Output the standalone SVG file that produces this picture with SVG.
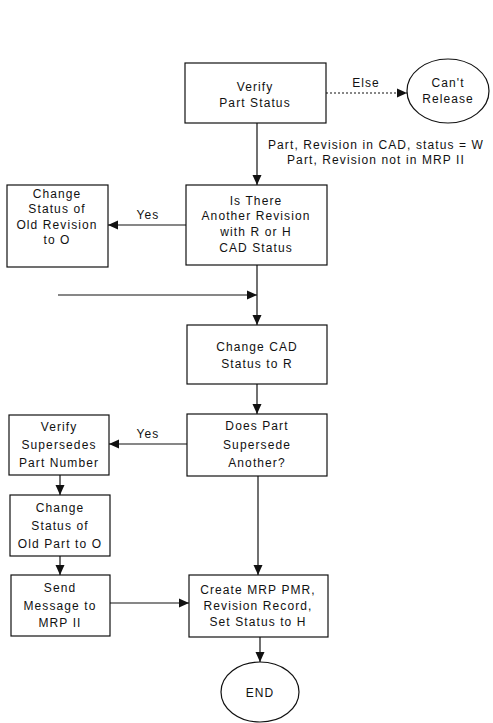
<svg xmlns="http://www.w3.org/2000/svg" width="493" height="723" viewBox="0 0 493 723">
<defs>
<style>
.b{fill:#fff;stroke:#111;stroke-width:1.2}
.t{font-family:"Liberation Sans",Arial,sans-serif;font-size:12px;fill:#111;text-anchor:middle;letter-spacing:1.1px}
.l{fill:none;stroke:#111;stroke-width:1.2}
.d{fill:none;stroke:#111;stroke-width:1.2;stroke-dasharray:2 2}
</style>
<marker id="a" viewBox="0 0 10 10" refX="10" refY="5" markerWidth="10" markerHeight="10" markerUnits="userSpaceOnUse" orient="auto">
<path d="M0,0.5 L10,5 L0,9.5 Z" fill="#111"/>
</marker>
</defs>
<rect width="493" height="723" fill="#fff"/>
<g id="connectors">
<line class="d" x1="326" y1="93" x2="407" y2="93" marker-end="url(#a)"/>
<text class="t" x="366" y="87">Else</text>
<line class="l" x1="257" y1="123" x2="257" y2="185" marker-end="url(#a)"/>
<text class="t" x="376" y="149">Part, Revision in CAD, status = W</text>
<text class="t" x="376" y="164">Part, Revision not in MRP II</text>
<line class="l" x1="186" y1="225" x2="108" y2="225" marker-end="url(#a)"/>
<text class="t" x="148" y="219">Yes</text>
<line class="l" x1="58" y1="295" x2="257" y2="295" marker-end="url(#a)"/>
<line class="l" x1="257" y1="265" x2="257" y2="325" marker-end="url(#a)"/>
<line class="l" x1="257" y1="384" x2="257" y2="414" marker-end="url(#a)"/>
<line class="l" x1="187" y1="444" x2="109" y2="444" marker-end="url(#a)"/>
<text class="t" x="148" y="438">Yes</text>
<line class="l" x1="60" y1="475" x2="60" y2="495" marker-end="url(#a)"/>
<line class="l" x1="60" y1="556" x2="60" y2="575" marker-end="url(#a)"/>
<line class="l" x1="110" y1="603" x2="189" y2="603" marker-end="url(#a)"/>
<line class="l" x1="258" y1="476" x2="258" y2="575" marker-end="url(#a)"/>
<line class="l" x1="260" y1="637" x2="260" y2="662" marker-end="url(#a)"/>
</g>
<g id="verify-part-status">
<rect class="b" x="185" y="63" width="141" height="60"/>
<text class="t" x="255" y="91">Verify</text>
<text class="t" x="255" y="107">Part Status</text>
</g>
<g id="cant-release">
<ellipse class="b" cx="448" cy="91" rx="41" ry="32"/>
<text class="t" x="448" y="87">Can't</text>
<text class="t" x="448" y="103">Release</text>
</g>
<g id="another-revision">
<rect class="b" x="186" y="185" width="141" height="80"/>
<text class="t" x="256" y="205">Is There</text>
<text class="t" x="256" y="220">Another Revision</text>
<text class="t" x="256" y="236">with R or H</text>
<text class="t" x="256" y="252">CAD Status</text>
</g>
<g id="change-old-revision">
<rect class="b" x="7" y="185" width="101" height="82"/>
<text class="t" x="57" y="198">Change</text>
<text class="t" x="57" y="213">Status of</text>
<text class="t" x="57" y="229">Old Revision</text>
<text class="t" x="57" y="244">to O</text>
</g>
<g id="change-cad-status">
<rect class="b" x="187" y="325" width="140" height="59"/>
<text class="t" x="257" y="351">Change CAD</text>
<text class="t" x="257" y="368">Status to R</text>
</g>
<g id="does-part-supersede">
<rect class="b" x="187" y="414" width="140" height="62"/>
<text class="t" x="257" y="430">Does Part</text>
<text class="t" x="257" y="449">Supersede</text>
<text class="t" x="257" y="467">Another?</text>
</g>
<g id="verify-supersedes">
<rect class="b" x="9" y="415" width="100" height="60"/>
<text class="t" x="59" y="431">Verify</text>
<text class="t" x="59" y="449">Supersedes</text>
<text class="t" x="59" y="467">Part Number</text>
</g>
<g id="change-old-part">
<rect class="b" x="10" y="495" width="100" height="61"/>
<text class="t" x="60" y="512">Change</text>
<text class="t" x="60" y="530">Status of</text>
<text class="t" x="60" y="548">Old Part to O</text>
</g>
<g id="send-message">
<rect class="b" x="11" y="575" width="99" height="61"/>
<text class="t" x="60" y="592">Send</text>
<text class="t" x="60" y="610">Message to</text>
<text class="t" x="60" y="627">MRP II</text>
</g>
<g id="create-mrp-pmr">
<rect class="b" x="189" y="575" width="139" height="62"/>
<text class="t" x="258" y="594">Create MRP PMR,</text>
<text class="t" x="258" y="610">Revision Record,</text>
<text class="t" x="258" y="626">Set Status to H</text>
</g>
<g id="end">
<ellipse class="b" cx="260" cy="692" rx="39" ry="30"/>
<text class="t" x="260" y="697">END</text>
</g>
</svg>
